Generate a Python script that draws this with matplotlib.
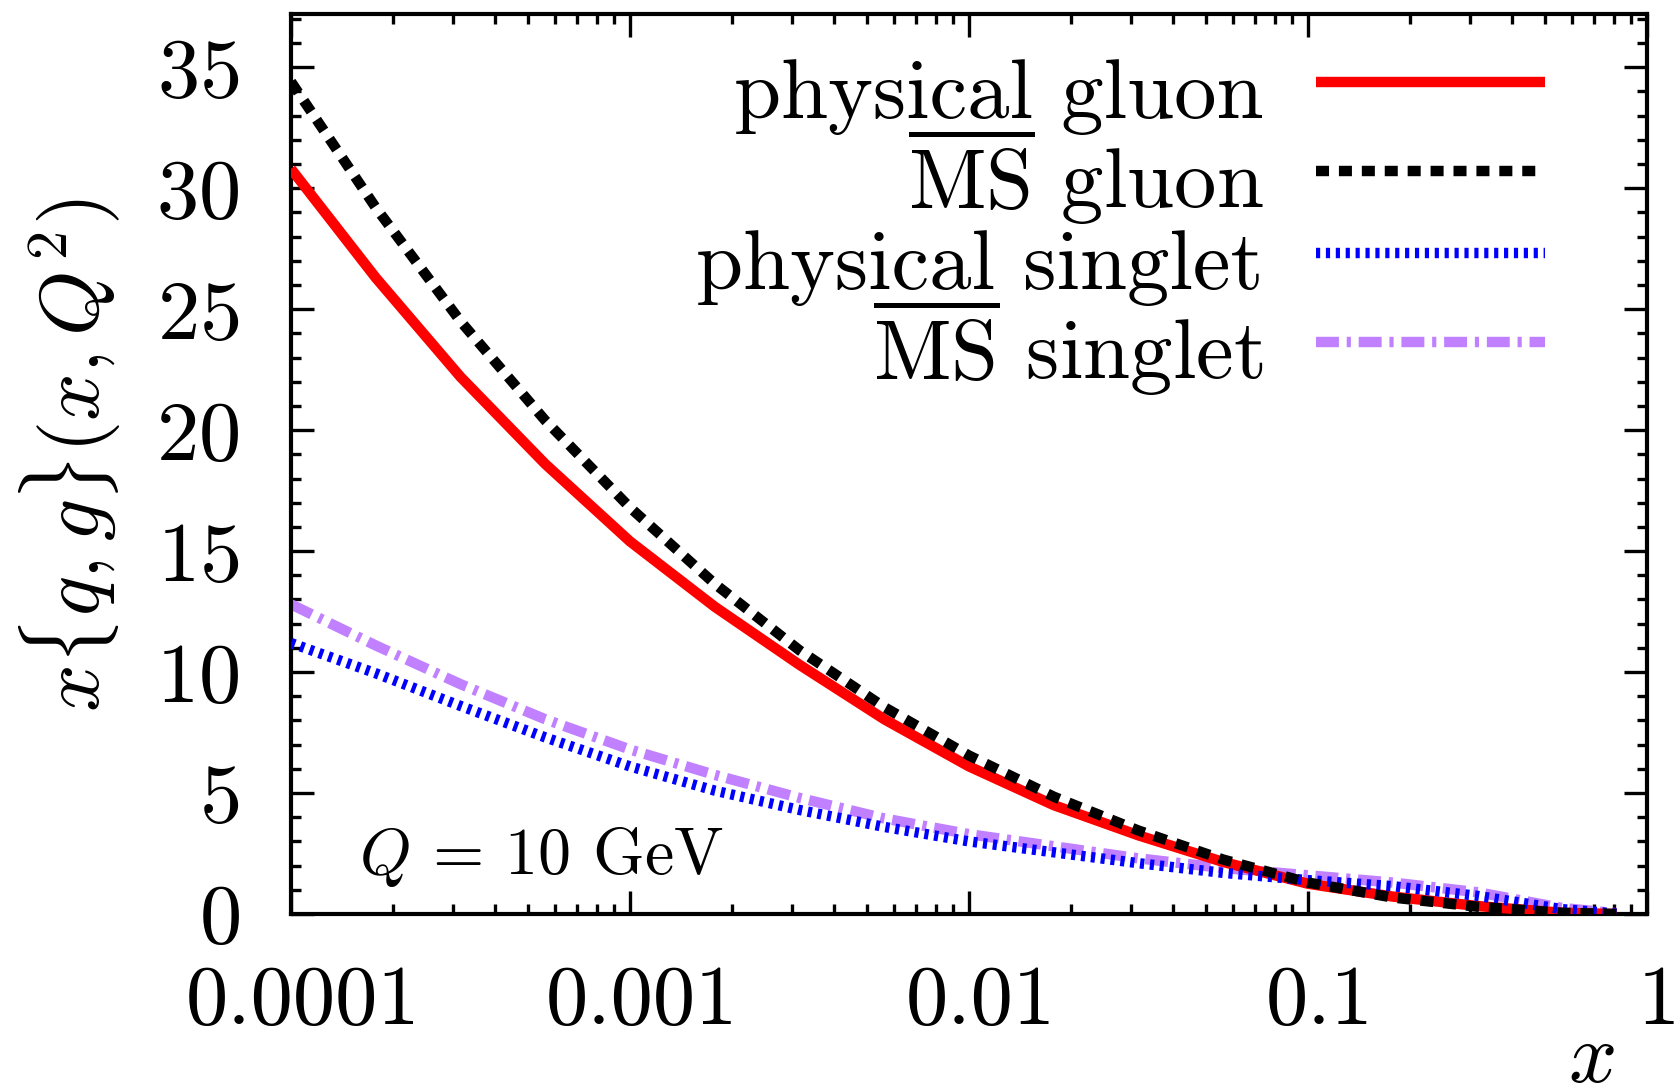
import numpy as np
import matplotlib
matplotlib.use("Agg")
import matplotlib.pyplot as plt
from matplotlib.ticker import MultipleLocator, FixedLocator, NullFormatter
from matplotlib.transforms import ScaledTranslation

# ---- data ----
x_vals = [1e-4, 1.778e-4, 3.162e-4, 5.623e-4, 1e-3, 1.778e-3, 3.162e-3, 5.623e-3,
          1e-2, 1.778e-2, 3.162e-2, 5.623e-2, 0.1, 0.1778, 0.3162, 0.5623, 0.813]
phys_gluon = [30.8, 26.3, 22.2, 18.6, 15.4, 12.7, 10.3, 8.05, 6.1, 4.5, 3.25, 2.15,
              1.25, 0.72, 0.33, 0.05, 0.0]
msbar_gluon = [34.4, 29.2, 24.5, 20.4, 16.8, 13.65, 10.9, 8.55, 6.55, 4.85, 3.45, 2.25,
               1.3, 0.68, 0.3, 0.05, 0.0]
phys_singlet = [11.2, 9.95, 8.6, 7.3, 6.1, 5.1, 4.3, 3.6, 3.0, 2.55, 2.1, 1.7,
                1.4, 1.15, 0.75, 0.2, 0.02]
msbar_singlet = [12.8, 11.1, 9.5, 8.05, 6.8, 5.75, 4.8, 3.95, 3.3, 2.8, 2.3, 1.9,
                 1.6, 1.3, 0.9, 0.25, 0.03]

labels = ["physical gluon", r"$\overline{\rm MS}$ gluon",
          "physical singlet", r"$\overline{\rm MS}$ singlet"]
xtick_vals = [1e-4, 1e-3, 1e-2, 1e-1, 1]
xtick_labels = ["0.0001", "0.001", "0.01", "0.1", "1"]
ytick_vals = [0, 5, 10, 15, 20, 25, 30, 35]

plt.rcParams["font.family"] = "cmr10"
plt.rcParams["mathtext.fontset"] = "cm"
plt.rcParams["axes.unicode_minus"] = False
plt.rcParams["axes.formatter.use_mathtext"] = True

W, H = 1680, 1092
fig = plt.figure(figsize=(W / 100, H / 100), dpi=100)
L, R, T, B = 291, 1647, 14, 914
ax = fig.add_axes([L / W, 1 - B / H, (R - L) / W, (B - T) / H])

lw = 7.5
ax.plot(x_vals, phys_gluon, color="#ff0000", lw=lw, solid_capstyle="butt",
        solid_joinstyle="round", label=labels[0], zorder=3)
ax.plot(x_vals, msbar_gluon, color="black", lw=lw, dashes=(1.25, 0.95),
        dash_capstyle="butt", label=labels[1], zorder=4)
ax.plot(x_vals, phys_singlet, color="#0000ff", lw=lw, dashes=(0.4, 0.55),
        dash_capstyle="butt", label=labels[2], zorder=3)
ax.plot(x_vals, msbar_singlet, color="#c080ff", lw=lw, dashes=(2.2, 0.75, 0.4, 0.75),
        dash_capstyle="butt", label=labels[3], zorder=2)

ax.set_xscale("log")
ax.set_xlim(1e-4, 1)
ax.set_ylim(0, 37.2)
ax.set_xticks(xtick_vals)
ax.set_xticklabels(xtick_labels)
ax.xaxis.set_minor_locator(FixedLocator(
    [m * 10.0 ** e for e in range(-4, 0) for m in range(2, 10)]))
ax.xaxis.set_minor_formatter(NullFormatter())
ax.set_yticks(ytick_vals)
ax.yaxis.set_minor_locator(MultipleLocator(1))

fs = 61
for s in ax.spines.values():
    s.set_linewidth(3.0)
ax.tick_params(which="both", direction="in", top=True, right=True, width=2.4)
ax.tick_params(which="major", length=16.5, labelsize=fs)
ax.tick_params(which="minor", length=7.2)
ax.tick_params(axis="x", which="major", pad=37)
ax.tick_params(axis="y", which="major", pad=37)

# gnuplot-like slight right offset of x tick labels
off = ScaledTranslation(12 / 100, 0, fig.dpi_scale_trans)
for lab in ax.get_xticklabels():
    lab.set_transform(lab.get_transform() + off)

leg = ax.legend(loc="upper right", markerfirst=False, frameon=False, fontsize=fs,
                handlelength=2.7, handleheight=1.25, handletextpad=0.62,
                labelspacing=-0.125, borderpad=0, borderaxespad=0,
                bbox_to_anchor=((1545 - L) / (R - L), 1 - (45 - T) / (B - T)))

ax.text(0.05, 0.063, r"$Q\,=\,10$ GeV", transform=ax.transAxes, fontsize=47.5,
        ha="left", va="center")

fig.text(70 / W, 1 - 455 / H, r"$x\{q,g\}(x,Q^2)$", rotation=90, fontsize=60,
         ha="center", va="center")
fig.text(1591 / W, 1 - 1061 / H, r"$x$", fontsize=fs, ha="center", va="center")

fig.savefig("out.png", dpi=100)
